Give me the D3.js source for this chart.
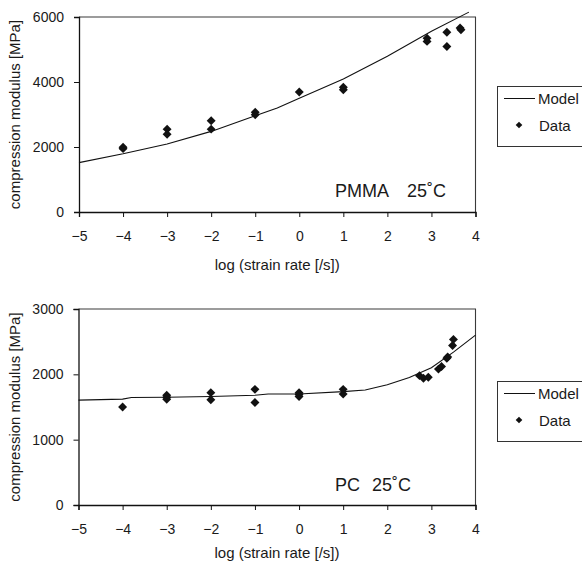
<!DOCTYPE html>
<html><head><meta charset="utf-8">
<script src="https://cdn.jsdelivr.net/npm/d3@7"></script>
<style>
body{margin:0;background:#fff}
text{font-family:"Liberation Sans",Arial,Helvetica,sans-serif;fill:#1a1a1a}
</style>
</head><body>
<svg id="c" width="582" height="567"></svg>
<script>
// ---- data ----
const xTicks = [-5,-4,-3,-2,-1,0,1,2,3,4];
const xTickLabels = ["\u22125","\u22124","\u22123","\u22122","\u22121","0","1","2","3","4"];
const pmmaYTicks = [0,2000,4000,6000];
const pcYTicks = [0,1000,2000,3000];

const pmmaModelX = [-5,-4,-3,-2,-1,-0.5,0,1,2,3,3.85];
const pmmaModelY = [1520,1790,2095,2480,2960,3200,3500,4090,4790,5560,6150];
const pmmaDataX = [-4,-4,-3,-3,-2,-2,-1,-1,0,1,1,2.9,2.9,3.35,3.35,3.65,3.67];
const pmmaDataY = [1950,1990,2550,2390,2810,2550,3070,2990,3690,3840,3760,5350,5250,5530,5090,5660,5610];

const pcModelX = [-5,-4,-3.8,-3,-2,-1,-0.7,0,1,1.5,2,2.5,3,3.5,4];
const pcModelY = [1605,1620,1645,1650,1660,1680,1700,1700,1735,1760,1840,1950,2100,2340,2600];
const pcDataX = [-4,-3,-3,-3,-2,-2,-1,-1,0,0,0,1,1,2.73,2.82,2.93,3.16,3.23,3.35,3.37,3.48,3.5];
const pcDataY = [1500,1680,1650,1620,1720,1610,1770,1570,1720,1690,1660,1770,1700,1980,1940,1955,2080,2120,2245,2265,2440,2535];

const legendLabels = ["Model","Data"];
const yTitle = "compression modulus [MPa]";
const xTitle = "log (strain rate [/s])";

const svg = d3.select("#c");

function panel(cfg){
  const g = svg.append("g");
  const x = d3.scaleLinear().domain([-5,4]).range([cfg.left,cfg.right]);
  const y = d3.scaleLinear().domain([0,cfg.ymax]).range([cfg.bottom,cfg.top]);

  // frame top/right
  g.append("path").attr("d",`M${cfg.left},${cfg.top}H${cfg.right}V${cfg.bottom}`)
    .attr("fill","none").attr("stroke","#3a3a3a").attr("stroke-width",1.1);

  const xa = g.append("g").attr("transform",`translate(0,${cfg.bottom})`)
    .call(d3.axisBottom(x).tickValues(xTicks).tickSize(5).tickPadding(cfg.xPad)
      .tickFormat((d,i)=>xTickLabels[i]));
  const ya = g.append("g").attr("transform",`translate(${cfg.left},0)`)
    .call(d3.axisLeft(y).tickValues(cfg.yTicks).tickSize(5).tickPadding(10).tickFormat(d3.format("d")));
  [xa,ya].forEach(a=>{
    a.select(".domain").attr("stroke","#111").attr("stroke-width",1.3);
    a.selectAll(".tick line").attr("stroke","#111");
    a.selectAll("text").attr("font-size",14).attr("fill","#1a1a1a")
      .attr("font-family",'"Liberation Sans",Arial,sans-serif');
  });

  // model line
  const pts = cfg.mx.map((v,i)=>[v,cfg.my[i]]);
  g.append("path").datum(pts)
    .attr("d",d3.line().x(d=>x(d[0])).y(d=>y(d[1])))
    .attr("fill","none").attr("stroke","#111").attr("stroke-width",1.1);

  // data points
  const sym = d3.symbol().type(d3.symbolSquare).size(40);
  g.selectAll("path.pt").data(cfg.dx.map((v,i)=>[v,cfg.dy[i]])).enter()
    .append("path").attr("class","pt").attr("d",sym)
    .attr("transform",d=>`translate(${x(d[0])},${y(d[1])}) rotate(45)`)
    .attr("fill","#111");

  // label
  g.append("text").attr("x",cfg.labelX).attr("y",cfg.labelY)
    .attr("font-size",18).text(cfg.label);
  g.append("text").attr("x",cfg.tempX).attr("y",cfg.labelY)
    .attr("font-size",18).text("25\u02DAC");

  // axis titles
  g.append("text").attr("x",(cfg.left+cfg.right)/2).attr("y",cfg.bottom+cfg.titleOff)
    .attr("text-anchor","middle").attr("font-size",15).text(xTitle);
  g.append("text").attr("transform",`translate(20,${(cfg.top+cfg.bottom)/2}) rotate(-90)`)
    .attr("text-anchor","middle").attr("font-size",15).text(yTitle);

  // legend
  const lg = g.append("g");
  lg.append("rect").attr("x",497.5).attr("y",cfg.legTop+0.5).attr("width",100).attr("height",60)
    .attr("fill","#fff").attr("stroke","#333").attr("stroke-width",1);
  lg.append("line").attr("x1",504).attr("x2",535).attr("y1",cfg.legTop+12.5).attr("y2",cfg.legTop+12.5)
    .attr("stroke","#111").attr("stroke-width",1);
  lg.append("text").attr("x",538).attr("y",cfg.legTop+17.5).attr("font-size",15).text(legendLabels[0]);
  lg.append("path").attr("d",d3.symbol().type(d3.symbolSquare).size(22))
    .attr("transform",`translate(519,${cfg.legTop+39}) rotate(45)`).attr("fill","#111");
  lg.append("text").attr("x",539).attr("y",cfg.legTop+44.5).attr("font-size",15).text(legendLabels[1]);
}

panel({left:79,right:475.5,top:17,bottom:212,ymax:6000,yTicks:pmmaYTicks,
  mx:pmmaModelX,my:pmmaModelY,dx:pmmaDataX,dy:pmmaDataY,
  label:"PMMA",labelX:335,tempX:407,labelY:197,legTop:86,xPad:14,titleOff:58});
panel({left:78.5,right:475.5,top:309,bottom:505,ymax:3000,yTicks:pcYTicks,
  mx:pcModelX,my:pcModelY,dx:pcDataX,dy:pcDataY,
  label:"PC",labelX:335,tempX:372,labelY:491,legTop:381,xPad:14,titleOff:53});
</script>
</body></html>
